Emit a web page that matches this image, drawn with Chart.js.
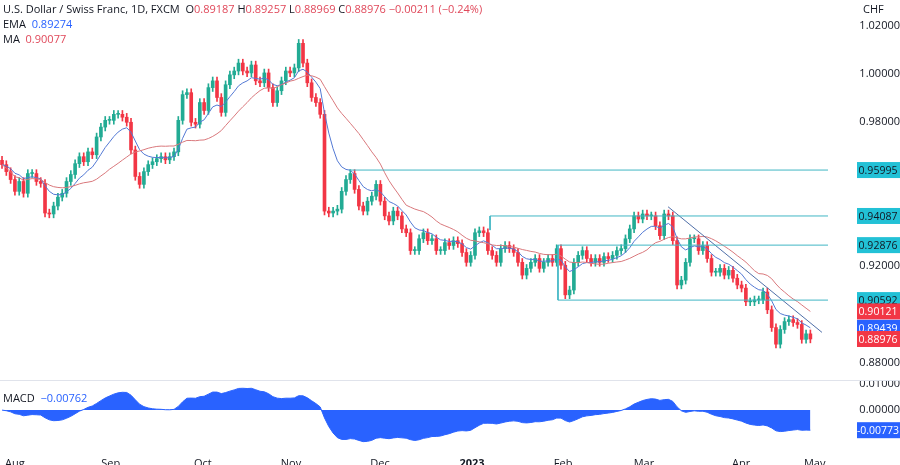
<!DOCTYPE html>
<html>
<head>
<meta charset="utf-8">
<script src="https://cdn.jsdelivr.net/npm/chart.js@4.4.0/dist/chart.umd.min.js"></script>
<style>
  body { margin: 0; background: #fff; font-family: "Open Sans", Roboto, sans-serif; }
  #wrap { position: relative; width: 900px; height: 465px; overflow: hidden; }
  #c1 { position: absolute; left: 0; top: 0; }
  #c2 { position: absolute; left: 0; top: 381px; }
  .sep { position: absolute; left: 0; top: 380px; width: 900px; height: 1px; background: #e0e3eb; }
  .lbl { position: absolute; font-size: 11px; color: #131722; white-space: nowrap; }
  .red { color: #e0485a; }
  .blue { color: #2962ff; }
</style>
</head>
<body>
<div id="wrap">
  <canvas id="c1" width="900" height="380"></canvas>
  <div class="sep"></div>
  <canvas id="c2" width="900" height="84"></canvas>
  <div class="lbl" style="left:3px;top:1px">U.S. Dollar / Swiss Franc, 1D, FXCM&nbsp;&nbsp;O<span class="red">0.89187</span> H<span class="red">0.89257</span> L<span class="red">0.88969</span> C<span class="red">0.88976 −0.00211 (−0.24%)</span></div>
  <div class="lbl" style="left:3px;top:16px">EMA&nbsp;&nbsp;<span class="blue">0.89274</span></div>
  <div class="lbl" style="left:3px;top:31px">MA&nbsp;&nbsp;<span class="red">0.90077</span></div>
  <div class="lbl" style="left:863px;top:1px">CHF</div>
  <div class="lbl" style="left:3px;top:390px">MACD&nbsp;&nbsp;<span class="blue">−0.00762</span></div>
</div>
<script>
// Daily closes, late Jul 2022 -> 25 Apr 2023
const closes = [
  0.9622, 0.9593, 0.9560, 0.9511, 0.9552, 0.9503, 0.9585, 0.9585, 0.9552, 0.9544,
  0.9421, 0.9417, 0.9450, 0.9487, 0.9503, 0.9552, 0.9581, 0.9626, 0.9655, 0.9634,
  0.9675, 0.9663, 0.9737, 0.9778, 0.9806, 0.9806, 0.9831, 0.9831, 0.9819, 0.9798,
  0.9683, 0.9573, 0.9540, 0.9593, 0.9622, 0.9634, 0.9647, 0.9655, 0.9642, 0.9655,
  0.9675, 0.9806, 0.9913, 0.9921, 0.9798, 0.9790, 0.9880, 0.9847, 0.9942, 0.9970,
  0.9901, 0.9839, 0.9954, 0.9995, 1.0011, 1.0044, 1.0011, 1.0003, 1.0036, 0.9970,
  0.9962, 1.0003, 0.9942, 0.9880, 0.9929, 0.9970, 1.0011, 1.0003, 1.0024, 1.0126,
  1.0044, 0.9962, 0.9901, 0.9880, 0.9831, 0.9429, 0.9421, 0.9429, 0.9437, 0.9511,
  0.9560, 0.9585, 0.9519, 0.9450, 0.9429, 0.9470, 0.9491, 0.9540, 0.9470, 0.9409,
  0.9388, 0.9429, 0.9409, 0.9355, 0.9339, 0.9265, 0.9265, 0.9314, 0.9339, 0.9306,
  0.9314, 0.9265, 0.9265, 0.9298, 0.9286, 0.9306, 0.9294, 0.9257, 0.9216, 0.9245,
  0.9339, 0.9347, 0.9339, 0.9265, 0.9245, 0.9216, 0.9273, 0.9286, 0.9273, 0.9257,
  0.9216, 0.9163, 0.9191, 0.9216, 0.9232, 0.9191, 0.9216, 0.9232, 0.9216, 0.9273,
  0.9204, 0.9081, 0.9101, 0.9216, 0.9245, 0.9265, 0.9232, 0.9216, 0.9232, 0.9216,
  0.9240, 0.9232, 0.9245, 0.9265, 0.9273, 0.9314, 0.9355, 0.9409, 0.9396, 0.9417,
  0.9409, 0.9409, 0.9368, 0.9327, 0.9417, 0.9409, 0.9306, 0.9122, 0.9142, 0.9216,
  0.9314, 0.9314, 0.9265, 0.9286, 0.9232, 0.9175, 0.9175, 0.9191, 0.9163, 0.9183,
  0.9150, 0.9122, 0.9109, 0.9052, 0.9052, 0.9060, 0.9060, 0.9093, 0.9019, 0.8945,
  0.8876, 0.8937, 0.8970, 0.8978, 0.8966, 0.8958, 0.8896, 0.8919, 0.88976
];
const firstOpen = 0.9640;
const wick = 0.0016;

// Month ticks (trading-day index) and labels
const monthIdx = [3, 25.3, 46.7, 67.2, 87.9, 109.3, 130.5, 149.3, 171.9, 189];
const monthLabels = ['Aug', 'Sep', 'Oct', 'Nov', 'Dec', '2023', 'Feb', 'Mar', 'Apr', 'May'];
const priceTicks = [0.88, 0.90, 0.92, 0.94, 0.96, 0.98, 1.00, 1.02];
const macdTicks = [0.01, 0];

// Drawn levels: [value, start index, vertical drop to]
const levels = [
  [0.95995, 80.7, null],
  [0.94087, 113.5, 0.9350],
  [0.92876, 129.3, 0.90592],
  [0.90592, 129.3, null],
];
const trendStart = [154.9, 0.9447];
const trendEnd = [190.7, 0.8925];

const GREEN = '#22ab94', RED = '#f23645', TEAL = '#41b6c4';
const X_MIN = -0.47, X_MAX = 192.1;

// OHLC from closes
const opens = closes.map((c, i) => (i === 0 ? firstOpen : closes[i - 1]));
const bodies = closes.map((c, i) => ({ x: i, y: [Math.min(opens[i], c), Math.max(opens[i], c)] }));
const wicks = closes.map((c, i) => ({ x: i, y: [Math.min(opens[i], c) - wick, Math.max(opens[i], c) + wick] }));
const colors = closes.map((c, i) => (c >= opens[i] ? GREEN : RED));

// Indicators
const ema = (arr, n) => {
  const k = 2 / (n + 1); let e = arr[0];
  return arr.map((v) => (e = v * k + e * (1 - k)));
};
const sma = (arr, n) => arr.map((v, i) => {
  const s = arr.slice(Math.max(0, i - n + 1), i + 1);
  return s.reduce((a, b) => a + b, 0) / s.length;
});
const emaLine = ema(closes, 9);
const maLine = sma(closes, 20);
const e12 = ema(closes, 12), e26 = ema(closes, 26);
const macd = closes.map((c, i) => e12[i] - e26[i]);

const xScale = (display) => ({
  type: 'linear', min: X_MIN, max: X_MAX, display, offset: false,
  grid: { display: false }, border: { display: false },
  afterBuildTicks: (s) => { s.ticks = monthIdx.map((v) => ({ value: v })); },
  afterFit: (s) => { s.height = 18; s.paddingLeft = 0; s.paddingRight = 0; },
  ticks: {
    maxRotation: 0, padding: 2, color: '#131722',
    font: (ctx) => ({ family: 'Open Sans', size: 11, weight: ctx.index === 5 ? 'bold' : 'normal' }),
    callback: (v, i) => monthLabels[i],
  },
});

const yRight = (min, max, ticks) => ({
  position: 'right', min, max,
  grid: { display: false }, border: { display: false },
  afterFit: (s) => { s.width = 72; s.paddingTop = 0; s.paddingBottom = 0; },
  afterBuildTicks: (s) => { s.ticks = ticks.map((v) => ({ value: v })); },
  ticks: { padding: 6, crossAlign: 'far', color: '#131722', font: { family: 'Open Sans', size: 11 }, callback: (v) => v.toFixed(5) },
});

const badge = (chart, value, bg, fg) => {
  const ctx = chart.ctx;
  const y = chart.scales.y.getPixelForValue(value);
  ctx.save();
  ctx.fillStyle = bg;
  ctx.fillRect(857, y - 8, 43, 16);
  ctx.fillStyle = fg;
  ctx.font = '10.5px "Open Sans"';
  ctx.textAlign = 'center'; ctx.textBaseline = 'middle';
  ctx.fillText(value.toFixed(5), 878, y + 1);
  ctx.restore();
};

const levelDatasets = levels.flatMap(([v, s, drop]) => {
  const out = [{ type: 'line', data: [{ x: s, y: v }, { x: X_MAX, y: v }], borderColor: TEAL, borderWidth: 1, pointRadius: 0 }];
  if (drop !== null) out.push({ type: 'line', data: [{ x: s, y: v }, { x: s, y: drop }], borderColor: TEAL, borderWidth: 1, pointRadius: 0 });
  return out;
});

new Chart(document.getElementById('c1'), {
  type: 'bar',
  data: {
    datasets: [
      { data: wicks, backgroundColor: colors, barThickness: 1, grouped: false, order: 3 },
      { data: bodies, backgroundColor: colors, barThickness: 3, grouped: false, order: 2, minBarLength: 1 },
      { type: 'line', data: maLine.map((v, i) => ({ x: i, y: v })), borderColor: '#d9787c', borderWidth: 1, pointRadius: 0, order: 1 },
      { type: 'line', data: emaLine.map((v, i) => ({ x: i, y: v })), borderColor: '#5379d4', borderWidth: 1, pointRadius: 0, order: 1 },
      ...levelDatasets,
      { type: 'line', data: [{ x: trendStart[0], y: trendStart[1] }, { x: trendEnd[0], y: trendEnd[1] }], borderColor: '#4f6fa8', borderWidth: 1, pointRadius: 0 },
    ],
  },
  options: {
    responsive: false, animation: false,
    layout: { padding: 0 },
    scales: { x: { ...xScale(false) }, y: yRight(0.8802, 1.0306, priceTicks) },
    plugins: { legend: { display: false }, tooltip: { enabled: false } },
  },
  plugins: [{
    id: 'badges',
    afterDraw: (chart) => {
      levels.forEach(([v]) => badge(chart, v, '#22c1d6', '#131722'));
      badge(chart, maLine[maLine.length - 1], RED, '#fff');
      badge(chart, emaLine[emaLine.length - 1], '#2962ff', '#fff');
      badge(chart, closes[closes.length - 1], RED, '#fff');
    },
  }],
});

new Chart(document.getElementById('c2'), {
  type: 'line',
  data: {
    datasets: [{
      data: macd.map((v, i) => ({ x: i, y: v })),
      borderColor: '#2962ff', backgroundColor: '#2962ff', borderWidth: 1,
      fill: 'origin', pointRadius: 0,
    }],
  },
  options: {
    responsive: false, animation: false,
    layout: { padding: 0 },
    scales: { x: xScale(true), y: yRight(-0.0142, 0.0112, macdTicks) },
    plugins: { legend: { display: false }, tooltip: { enabled: false } },
  },
  plugins: [{
    id: 'macdBadge',
    afterDraw: (chart) => badge(chart, macd[macd.length - 1], '#2962ff', '#fff'),
  }],
});
</script>
</body>
</html>
